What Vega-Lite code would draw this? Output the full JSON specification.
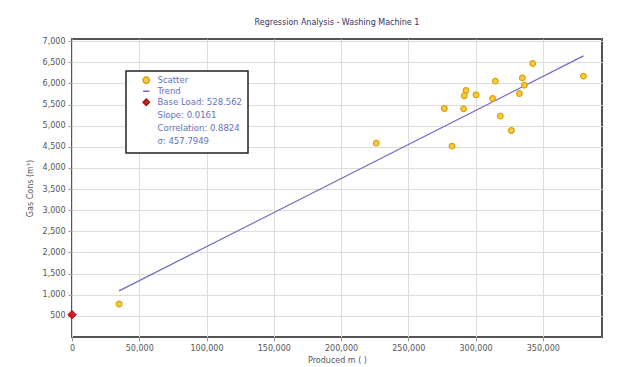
{
  "$schema": "https://vega.github.io/schema/vega-lite/v6.json",
  "width": 530,
  "height": 298,
  "autosize": {"type": "none"},
  "padding": {"left": 72, "top": 39, "right": 16, "bottom": 30},
  "background": "white",
  "title": {
    "text": "Regression Analysis - Washing Machine 1",
    "font": "DejaVu Sans",
    "fontSize": 8,
    "fontWeight": "normal",
    "color": "#333366",
    "offset": 10
  },
  "config": {
    "view": {"stroke": "#555555", "strokeWidth": 2},
    "axis": {
      "labelFont": "DejaVu Sans",
      "labelFontSize": 8,
      "labelColor": "#555555",
      "titleFont": "DejaVu Sans",
      "titleFontSize": 8,
      "titleFontWeight": "normal",
      "titleColor": "#555555",
      "gridColor": "#dddddd",
      "tickColor": "#999999",
      "tickSize": 4,
      "domain": false,
      "labelOverlap": false,
      "labelFlush": false
    },
    "legend": {
      "orient": "none",
      "legendX": 54,
      "legendY": 32,
      "padding": 5,
      "fillColor": "white",
      "strokeColor": "#222222",
      "strokeWidth": 1.5,
      "labelFont": "DejaVu Sans",
      "labelFontSize": 8.5,
      "labelColor": "#6670bb",
      "rowPadding": 0,
      "symbolSize": 40,
      "symbolOffset": 11,
      "labelOffset": 7
    }
  },
  "datasets": {
    "points": [
      {"series": "Scatter", "x": 342500, "y": 6470},
      {"series": "Scatter", "x": 380200, "y": 6170},
      {"series": "Scatter", "x": 334800, "y": 6130},
      {"series": "Scatter", "x": 314700, "y": 6052},
      {"series": "Scatter", "x": 336300, "y": 5957},
      {"series": "Scatter", "x": 292900, "y": 5832},
      {"series": "Scatter", "x": 291600, "y": 5705},
      {"series": "Scatter", "x": 300400, "y": 5728},
      {"series": "Scatter", "x": 332600, "y": 5761},
      {"series": "Scatter", "x": 312700, "y": 5643},
      {"series": "Scatter", "x": 276800, "y": 5406},
      {"series": "Scatter", "x": 291100, "y": 5397},
      {"series": "Scatter", "x": 318400, "y": 5224},
      {"series": "Scatter", "x": 326600, "y": 4886},
      {"series": "Scatter", "x": 282500, "y": 4515},
      {"series": "Scatter", "x": 226200, "y": 4586},
      {"series": "Scatter", "x": 35000, "y": 780}
    ],
    "base": [
      {"series": "Base Load: 528.562", "x": 0, "y": 528.562}
    ],
    "trend": [
      {"series": "Trend", "x": 35000, "y": 1092},
      {"series": "Trend", "x": 380200, "y": 6650}
    ]
  },
  "encoding": {
    "x": {
      "field": "x", "type": "quantitative",
      "scale": {"domain": [0, 394000], "nice": false, "zero": false},
      "axis": {"values": [0, 50000, 100000, 150000, 200000, 250000, 300000, 350000], "format": ",d", "title": "Produced m ( )", "titlePadding": 4, "labelPadding": 3}
    },
    "y": {
      "field": "y", "type": "quantitative",
      "scale": {"domain": [0, 7050], "nice": false},
      "axis": {"values": [500, 1000, 1500, 2000, 2500, 3000, 3500, 4000, 4500, 5000, 5500, 6000, 6500, 7000], "format": ",d", "title": "Gas Cons (m³)", "titlePadding": 8, "labelPadding": 3}
    }
  },
  "layer": [
    {
      "data": {"name": "trend"},
      "mark": {"type": "line", "color": "#6a6ac4", "strokeWidth": 1.2, "clip": false},
      "encoding": {}
    },
    {
      "data": {"name": "points"},
      "mark": {"type": "point", "filled": true, "size": 32, "strokeWidth": 1.2, "opacity": 1},
      "encoding": {
        "fill": {
          "field": "series", "type": "nominal",
          "scale": {
            "domain": ["Scatter", "Trend", "Base Load: 528.562", "Slope: 0.0161", "Correlation: 0.8824", "σ: 457.7949"],
            "range": ["#f5cc4a", "#6a6ac4", "#cc2020", "transparent", "transparent", "transparent"]
          },
          "legend": {"title": null}
        },
        "stroke": {
          "field": "series", "type": "nominal",
          "scale": {
            "domain": ["Scatter", "Trend", "Base Load: 528.562", "Slope: 0.0161", "Correlation: 0.8824", "σ: 457.7949"],
            "range": ["#dda000", "#6a6ac4", "#aa1010", "transparent", "transparent", "transparent"]
          },
          "legend": {"title": null}
        },
        "shape": {
          "field": "series", "type": "nominal",
          "scale": {
            "domain": ["Scatter", "Trend", "Base Load: 528.562", "Slope: 0.0161", "Correlation: 0.8824", "σ: 457.7949"],
            "range": ["circle", "stroke", "diamond", "circle", "circle", "circle"]
          },
          "legend": {"title": null}
        }
      }
    },
    {
      "data": {"name": "base"},
      "mark": {"type": "point", "filled": true, "size": 70, "strokeWidth": 1, "opacity": 1},
      "encoding": {
        "fill": {"field": "series", "type": "nominal"},
        "stroke": {"field": "series", "type": "nominal"},
        "shape": {"field": "series", "type": "nominal"}
      }
    }
  ]
}
